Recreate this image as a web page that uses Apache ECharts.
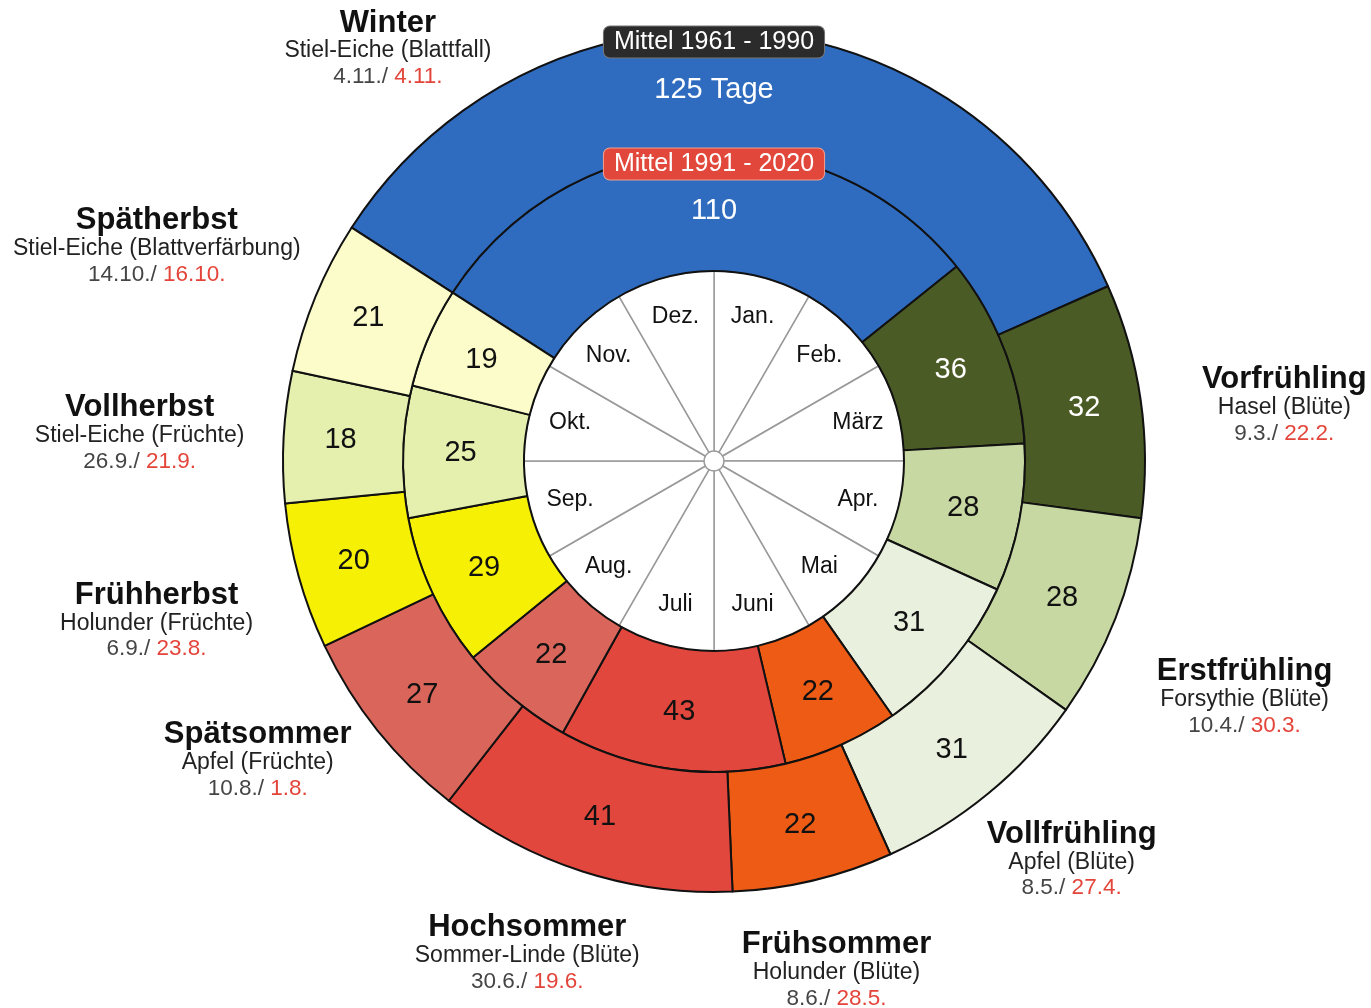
<!DOCTYPE html>
<html>
<head>
<meta charset="utf-8">
<script src="https://cdn.jsdelivr.net/npm/echarts@6/dist/echarts.min.js"></script>
<style>
html,body{margin:0;padding:0;background:#ffffff;}
#chart{width:1371px;height:1008px;}
</style>
</head>
<body>
<div id="chart"></div>
<script>
// ---------------- data ----------------
const seasons = ['Winter','Vorfrühling','Erstfrühling','Vollfrühling','Frühsommer','Hochsommer','Spätsommer','Frühherbst','Vollherbst','Spätherbst'];
const indicatorPlants = ['Stiel-Eiche (Blattfall)','Hasel (Blüte)','Forsythie (Blüte)','Apfel (Blüte)','Holunder (Blüte)','Sommer-Linde (Blüte)','Apfel (Früchte)','Holunder (Früchte)','Stiel-Eiche (Früchte)','Stiel-Eiche (Blattverfärbung)'];
const start1961 = ['4.11.','9.3.','10.4.','8.5.','8.6.','30.6.','10.8.','6.9.','26.9.','14.10.'];
const start1991 = ['4.11.','22.2.','30.3.','27.4.','28.5.','19.6.','1.8.','23.8.','21.9.','16.10.'];
const days1961 = [125,32,28,31,22,41,27,20,18,21];
const days1991 = [110,36,28,31,22,43,22,29,25,19];
const months = ['Jan.','Feb.','März','Apr.','Mai','Juni','Juli','Aug.','Sep.','Okt.','Nov.','Dez.'];
const periodLabels = ['Mittel 1961 - 1990','Mittel 1991 - 2020'];

// ---------------- styles / layout ----------------
const seasonColors = ['#2f6cbf','#4b5b25','#c7d8a3','#e9f0dd','#ee5b14','#e2473d','#da665b','#f6f004','#e5efae','#fbfcca'];
const darkSeason = [true,true,false,false,false,false,false,false,false,false];
const FONT = '"Liberation Sans", Arial, Helvetica, sans-serif';
const CX = 714, CY = 461;
const R_HUB = 10, R_MONTH = 190, R_MID = 311, R_OUT = 431, R_MONTH_LABEL = 102;
const labelDist = [525.4, 573, 581, 536, 524, 527, 546, 580, 575, 597];
const labelAngleShift = [-42.8, 2.6, 2.6, -2.4, -0.2, 3.0, 5.4, -0.5, -0.5, -1.4];

function dayOfYear(s) {
  const parts = s.split('.').map(Number);
  const md = [31,28,31,30,31,30,31,31,30,31,30,31];
  let n = 0;
  for (let k = 0; k < parts[1] - 1; k++) n += md[k];
  return n + parts[0] - 1;
}
const startDeg = dayOfYear(start1961[0]) * 360 / 365;   // clockwise from top
const echartsStart = 90 - startDeg;
const totalDays = days1961.reduce((a, b) => a + b, 0);
const mid1961 = [];
(function () {
  let acc = startDeg;
  days1961.forEach(v => { mid1961.push(acc + v * 360 / totalDays / 2); acc += v * 360 / totalDays; });
})();

const chart = echarts.init(document.getElementById('chart'), null, {renderer: 'canvas'});

function ringData(values) {
  return values.map((v, i) => ({
    name: seasons[i],
    value: v,
    itemStyle: {color: seasonColors[i]},
    label: {color: darkSeason[i] ? '#ffffff' : '#111111'}
  }));
}

const ringItemStyle = {borderColor: '#111111', borderWidth: 2};
const numLabel = {show: true, position: 'inside', fontSize: 29, fontFamily: FONT};

const option = {
  animation: false,
  backgroundColor: '#ffffff',
  series: [
    // month disc
    {
      type: 'pie', silent: true, center: [CX, CY], radius: [R_HUB, R_MONTH],
      startAngle: 90, clockwise: true, z: 1,
      data: months.map(m => ({name: m, value: 1})),
      itemStyle: {color: '#ffffff', borderColor: '#9a9a9a', borderWidth: 1.5},
      label: {show: false}, labelLine: {show: false}
    },
    // month labels
    {
      type: 'pie', silent: true, center: [CX, CY], radius: [R_MONTH_LABEL, R_MONTH],
      startAngle: 90, clockwise: true, z: 2,
      data: months.map(m => ({name: m, value: 1})),
      itemStyle: {color: 'rgba(0,0,0,0)', borderWidth: 0},
      label: {show: true, position: 'inside', formatter: '{b}', fontSize: 23, color: '#111', fontFamily: FONT},
      labelLine: {show: false}
    },
    // inner ring 1991-2020
    {
      type: 'pie', silent: true, center: [CX, CY], radius: [R_MONTH, R_MID],
      startAngle: echartsStart, clockwise: true, z: 3,
      data: ringData(days1991),
      itemStyle: ringItemStyle,
      label: Object.assign({formatter: '{c}'}, numLabel),
      labelLine: {show: false},
      labelLayout: function (p) {
        if (p.dataIndex === 0) return {x: CX, y: CY - (R_MONTH + R_MID) / 2};
        return {};
      }
    },
    // outer ring 1961-1990
    {
      type: 'pie', silent: true, center: [CX, CY], radius: [R_MID, R_OUT],
      startAngle: echartsStart, clockwise: true, z: 3,
      data: ringData(days1961),
      itemStyle: ringItemStyle,
      label: Object.assign({formatter: p => p.dataIndex === 0 ? p.value + ' Tage' : String(p.value)}, numLabel),
      labelLine: {show: false},
      labelLayout: function (p) {
        if (p.dataIndex === 0) return {x: CX, y: CY - (R_MID + R_OUT) / 2};
        return {};
      }
    },
    // season annotations (transparent ring carrying the outside labels)
    {
      type: 'pie', silent: true, center: [CX, CY], radius: [R_MID, R_OUT],
      startAngle: echartsStart, clockwise: true, z: 4,
      data: days1961.map((v, i) => ({name: seasons[i], value: v})),
      itemStyle: {color: 'rgba(0,0,0,0)', borderWidth: 0},
      label: {
        show: true, position: 'inside', fontFamily: FONT,
        formatter: p => {
          const i = p.dataIndex;
          return '{n|' + seasons[i] + '}\n{p|' + indicatorPlants[i] + '}\n{d|' + start1961[i] + '/ }{r|' + start1991[i] + '}';
        },
        rich: {
          n: {fontSize: 31, fontWeight: 'bold', color: '#111', lineHeight: 30, align: 'center', fontFamily: FONT},
          p: {fontSize: 23, color: '#222', lineHeight: 26, align: 'center', fontFamily: FONT},
          d: {fontSize: 22.5, color: '#454545', lineHeight: 26, align: 'center', fontFamily: FONT},
          r: {fontSize: 22.5, color: '#e4453a', lineHeight: 26, align: 'center', fontFamily: FONT}
        }
      },
      labelLine: {show: false},
      labelLayout: function (p) {
        const i = p.dataIndex;
        const a = (mid1961[i] + labelAngleShift[i]) * Math.PI / 180;
        return {
          x: CX + labelDist[i] * Math.sin(a),
          y: CY - labelDist[i] * Math.cos(a),
          align: 'center', verticalAlign: 'middle', hideOverlap: false
        };
      }
    }
  ],
  graphic: [
    {
      type: 'text', x: CX, y: CY - R_OUT + 12, z: 100,
      style: {
        text: periodLabels[0], fill: '#ffffff', font: '25px ' + FONT,
        align: 'center', verticalAlign: 'middle',
        backgroundColor: '#2b2b2b', padding: [3, 10, 3, 10], borderRadius: 6,
        borderColor: '#777', borderWidth: 1
      }
    },
    {
      type: 'text', x: CX, y: CY - R_MID + 14, z: 100,
      style: {
        text: periodLabels[1], fill: '#ffffff', font: '25px ' + FONT,
        align: 'center', verticalAlign: 'middle',
        backgroundColor: '#e2473c', padding: [3, 10, 3, 10], borderRadius: 6,
        borderColor: '#f0a090', borderWidth: 1
      }
    }
  ]
};
chart.setOption(option);
</script>
</body>
</html>
